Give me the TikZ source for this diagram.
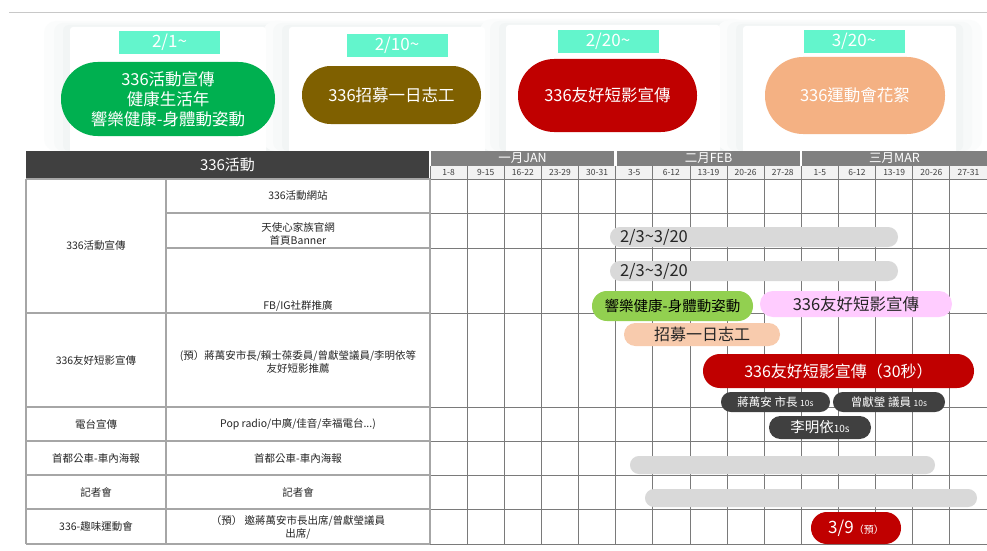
\documentclass[tikz,border=0pt]{standalone}
\usepackage{fontspec}
\setmainfont{Noto Sans CJK TC}
\definecolor{mint}{HTML}{63F5CC}
\definecolor{cgreen}{HTML}{00B050}
\definecolor{cbrown}{HTML}{7F6000}
\definecolor{cred}{HTML}{C00000}
\definecolor{cpeach}{HTML}{F4B183}
\definecolor{hdark}{HTML}{404040}
\definecolor{mgray}{HTML}{808080}
\definecolor{bgray}{HTML}{D9D9D9}
\definecolor{bgreen}{HTML}{92D050}
\definecolor{bpink}{HTML}{FFCCFF}
\definecolor{bpeach}{HTML}{F8CBAD}
\definecolor{topline}{HTML}{C8C8C8}
\definecolor{glowa}{HTML}{FBFCFC}
\definecolor{glowb}{HTML}{F7F9F9}
\definecolor{glowc}{HTML}{F2F5F5}
\definecolor{tline}{HTML}{A6A6A6}
\definecolor{gline}{HTML}{7A7A7A}
\definecolor{wkbg}{HTML}{F2F2F2}
\definecolor{ttext}{HTML}{262626}
\newcommand\fsz[2]{\fontsize{#1}{#2}\selectfont}
\newcommand\tld{\textasciitilde}
\tikzset{
  cardbox/.style={fill=white, rounded corners=3, anchor=north west},
  tagbox/.style={fill=mint, text=white, font=\fsz{17}{20}, minimum width=101, minimum height=23},
  pillbox/.style 2 args={minimum width=#1, minimum height=#2, rounded corners=0.495*#2, align=center},
  hdrbox/.style={fill=hdark, text=white, font=\fsz{15}{18}},
  monbox/.style={fill=mgray, text=white, font=\fsz{12.5}{14}, minimum height=15},
  wklabel/.style={text=hdark, font=\fsz{8.5}{10}},
  celltext/.style={text=ttext, font=\fsz{10.5}{13}, align=center},
  tablerule/.style={draw=tline, line width=1.2pt},
  gridrule/.style={draw=gline, line width=0.8pt},
}
\begin{document}
\begin{tikzpicture}[x=1pt, y=-1pt, every node/.style={inner sep=0pt, outer sep=0pt}]
\useasboundingbox (0,0) rectangle (987,551);
\fill[white] (0,0) rectangle (987,551);
\draw[topline, line width=1pt] (9,13) -- (987,13);

% card glows
\foreach \xa/\ya/\xb in {70/27/266, 289/27/485, 506/25/720, 743/26/956}{
  \fill[glowa, rounded corners=12] (\xa-26,\ya-6) rectangle (\xb+26,151);
  \fill[glowb, rounded corners=9] (\xa-16,\ya-4) rectangle (\xb+16,151);
  \fill[glowc, rounded corners=6] (\xa-7,\ya-2) rectangle (\xb+7,151);
}
\node[cardbox, minimum width=196, minimum height=130] (card1) at (70,27) {};
\node[cardbox, minimum width=196, minimum height=130] (card2) at (289,27) {};
\node[cardbox, minimum width=214, minimum height=130] (card3) at (506,25) {};
\node[cardbox, minimum width=213, minimum height=130] (card4) at (743,26) {};

\node[tagbox] (tag1) at (169.5,42.5) {2/1\tld};
\node[tagbox] (tag2) at (397,45.5) {2/10\tld};
\node[tagbox] (tag3) at (608,41.5) {2/20\tld};
\node[tagbox] (tag4) at (854,41.5) {3/20\tld};

\node[pillbox={214}{74}, fill=cgreen, text=white, font=\fsz{16.5}{20}] (p1) at (168,99) {336活動宣傳\\健康生活年\\響樂健康-身體動姿動};
\node[pillbox={179}{58}, fill=cbrown, text=white, font=\fsz{16.5}{20}] (p2) at (391.5,95) {336招募一日志工};
\node[pillbox={179}{73}, fill=cred, text=white, font=\fsz{16.5}{20}] (p3) at (607.5,95.5) {336友好短影宣傳};
\node[pillbox={180}{77}, fill=cpeach, text=white, font=\fsz{16.5}{20}] (p4) at (855,95.5) {336運動會花絮};

% table background
\fill[white] (26,179) rectangle (987,544);
% header
\node[hdrbox, minimum width=403, minimum height=28] (hdr) at (227.5,165) {336活動};
\node[monbox, minimum width=183] (jan) at (522.5,158.5) {一月JAN};
\node[monbox, minimum width=183] (feb) at (708.5,158.5) {二月FEB};
\node[monbox, minimum width=185] (mar) at (894.5,158.5) {三月MAR};
\fill[wkbg] (430,166) rectangle (987,179);

% week labels
\foreach \i/\t in {0/1-8,1/9-15,2/16-22,3/23-29,4/30-31,5/3-5,6/6-12,7/13-19,8/20-26,9/27-28,10/1-5,11/6-12,12/13-19,13/20-26,14/27-31}{
  \node[wklabel] (wk\i) at ({430+37.133*(\i+0.5)},172.5) {\t};
}

% gantt grid
\foreach \i in {0,...,14}{
  \draw[gridrule] ({430+37.133*\i},166) -- ({430+37.133*\i},544);
}
\foreach \yy in {179,213,248,313,407,441,475,509,544}{
  \draw[gridrule] (430,\yy) -- (987,\yy);
}

% left table rules
\draw[tablerule] (26,179) -- (26,544);
\draw[tablerule] (166,179) -- (166,544);
\draw[tablerule] (430,179) -- (430,544);
\draw[tablerule] (166,213) -- (430,213);
\draw[tablerule] (166,248) -- (430,248);
\foreach \yy in {179,313,407,441,475,509,544}{
  \draw[tablerule] (26,\yy) -- (430,\yy);
}

% left table texts
\node[celltext] (c1a) at (96,246) {336活動宣傳};
\node[celltext] (c1b) at (96,360) {336友好短影宣傳};
\node[celltext] (c1c) at (96,424) {電台宣傳};
\node[celltext] (c1d) at (96,458) {首都公車-車內海報};
\node[celltext] (c1e) at (96,492) {記者會};
\node[celltext] (c1f) at (96,527) {336-趣味運動會};

\node[celltext] (c2a) at (298,196) {336活動網站};
\node[celltext] (c2b) at (298,233.5) {天使心家族官網\\首頁Banner};
\node[celltext] (c2c) at (298,306) {FB/IG社群推廣};
\node[celltext] (c2d) at (298,361.5) {(預）蔣萬安市長/賴士葆委員/曾獻瑩議員/李明依等\\友好短影推薦};
\node[celltext] (c2e) at (298,424) {Pop radio/中廣/佳音/幸福電台...)};
\node[celltext] (c2f) at (298,458) {首都公車-車內海報};
\node[celltext] (c2g) at (298,492) {記者會};
\node[celltext] (c2h) at (298,527.5) {（預） 邀蔣萬安市長出席/曾獻瑩議員\\出席/};

% bars
\node[pillbox={288}{20}, fill=bgray, text=ttext, font=\fsz{16.5}{20}, text width=268, align=left] (g1) at (754,237) {2/3\tld3/20};
\node[pillbox={288}{20}, fill=bgray, text=ttext, font=\fsz{16.5}{20}, text width=268, align=left] (g2) at (754,271) {2/3\tld3/20};
\node[pillbox={161}{30}, fill=bgreen, text=black, font=\fsz{14.5}{18}] (bg) at (672.5,306) {響樂健康-身體動姿動};
\node[pillbox={192}{26}, fill=bpink, text=ttext, font=\fsz{16.5}{20}] (bp) at (856,304) {336友好短影宣傳};
\node[pillbox={156}{23}, fill=bpeach, text=ttext, font=\fsz{16}{20}] (bpe) at (702,334.5) {招募一日志工};
\node[pillbox={271}{34}, fill=cred, text=white, font=\fsz{16}{20}] (br) at (838.5,371) {336友好短影宣傳（30秒）};
\node[pillbox={109}{20}, fill=hdark, text=white, font=\fsz{11.5}{14}] (d1) at (775.5,402) {蔣萬安 市長 {\fsz{8.5}{10}10s}};
\node[pillbox={112}{20}, fill=hdark, text=white, font=\fsz{11.5}{14}] (d2) at (889,402) {曾獻瑩 議員 {\fsz{8.5}{10}10s}};
\node[pillbox={102}{23}, fill=hdark, text=white, font=\fsz{14.5}{17}] (d3) at (820,427.5) {李明依{\fsz{10}{12}10s}};
\node[pillbox={305}{18}, fill=bgray] (g3) at (782.5,465) {};
\node[pillbox={332}{18}, fill=bgray] (g4) at (811,498) {};
\node[pillbox={90}{32}, fill=cred, text=white, font=\fsz{17}{20}] (br2) at (856,528) {3/9{\fsz{10}{12}（預）}};
\end{tikzpicture}
\end{document}
